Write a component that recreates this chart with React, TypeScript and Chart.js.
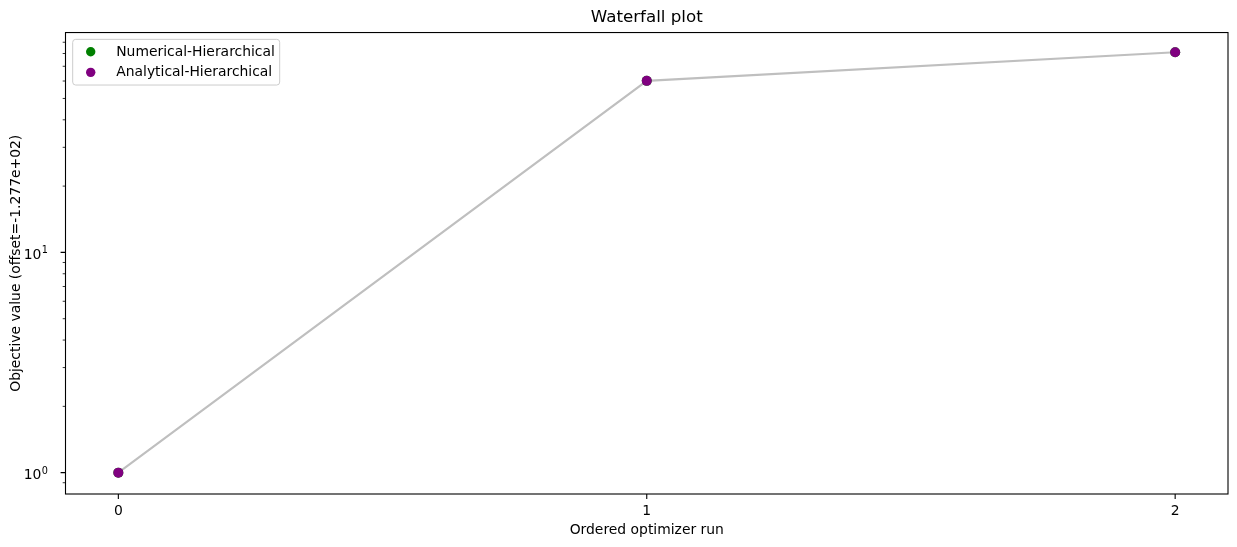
import { useEffect, useRef } from 'react';
import { Chart, registerables, Plugin } from 'chart.js';

Chart.register(...registerables);

const runs = [0, 1, 2];
const numericalValues = [1, 60.1, 81.1];
const analyticalValues = [1, 60.1, 81.1];
const seriesLabels = ['Numerical-Hierarchical', 'Analytical-Hierarchical'];
const seriesColors = ['#008000', '#800080'];
const xTicks = [0, 1, 2];
const yMajorTicks = [1, 10];
const yMinorTicks = [0.9, 2, 3, 4, 5, 6, 7, 8, 9, 20, 30, 40, 50, 60, 70, 80, 90];

const FONT = 'DejaVu Sans';

// matplotlib-like spines, tick marks, 10^n labels and an in-axes legend
const axesDecor: Plugin<'scatter'> = {
  id: 'axesDecor',
  afterDraw(chart) {
    const { ctx, chartArea: area, scales } = chart;
    const x = scales.x;
    const y = scales.y;
    ctx.save();
    ctx.strokeStyle = '#000';
    ctx.lineWidth = 1.1;

    ctx.beginPath();
    xTicks.forEach(v => {
      const px = x.getPixelForValue(v);
      ctx.moveTo(px, area.bottom);
      ctx.lineTo(px, area.bottom + 4.9);
    });
    yMajorTicks.forEach(v => {
      const py = y.getPixelForValue(v);
      ctx.moveTo(area.left, py);
      ctx.lineTo(area.left - 4.9, py);
    });
    ctx.stroke();

    ctx.lineWidth = 0.8;
    ctx.beginPath();
    yMinorTicks.forEach(v => {
      const py = y.getPixelForValue(v);
      ctx.moveTo(area.left, py);
      ctx.lineTo(area.left - 2.8, py);
    });
    ctx.stroke();

    ctx.lineWidth = 1.1;
    ctx.strokeRect(area.left, area.top, area.right - area.left, area.bottom - area.top);

    // y labels as 10 with a raised exponent
    ctx.fillStyle = '#000';
    ctx.textBaseline = 'alphabetic';
    yMajorTicks.forEach(v => {
      const py = y.getPixelForValue(v);
      const exp = String(Math.round(Math.log10(v)));
      ctx.font = `9.7px "${FONT}"`;
      ctx.textAlign = 'right';
      const expRight = area.left - 17.5;
      ctx.fillText(exp, expRight, py + 1);
      const expW = ctx.measureText(exp).width;
      ctx.font = `13.9px "${FONT}"`;
      ctx.fillText('10', expRight - expW - 0.5, py + 6.7);
    });

    // legend
    const lx = area.left + 7.2;
    const ly = area.top + 6.8;
    ctx.beginPath();
    ctx.roundRect(lx, ly, 207, 45.7, 3);
    ctx.fillStyle = 'rgba(255,255,255,0.8)';
    ctx.fill();
    ctx.strokeStyle = '#cccccc';
    ctx.lineWidth = 1;
    ctx.stroke();

    ctx.font = `13.9px "${FONT}"`;
    ctx.textBaseline = 'middle';
    ctx.textAlign = 'left';
    seriesLabels.forEach((label, i) => {
      const rowY = ly + 12.4 + i * 20.6;
      ctx.beginPath();
      ctx.arc(lx + 18, rowY, 4.7, 0, Math.PI * 2);
      ctx.fillStyle = seriesColors[i];
      ctx.fill();
      ctx.fillStyle = '#000';
      ctx.fillText(label, lx + 43.5, rowY + 0.5);
    });
    ctx.restore();
  },
};

export default function App() {
  const canvasRef = useRef<HTMLCanvasElement>(null);
  const chartRef = useRef<Chart | null>(null);

  useEffect(() => {
    if (!canvasRef.current) return;
    if (chartRef.current) chartRef.current.destroy();

    Chart.defaults.font.family = FONT;
    Chart.defaults.color = '#000';

    const toPoints = (vals: number[]) => runs.map((r, i) => ({ x: r, y: vals[i] }));

    chartRef.current = new Chart(canvasRef.current, {
      type: 'scatter',
      data: {
        datasets: [
          {
            label: 'line',
            data: toPoints(analyticalValues),
            showLine: true,
            borderColor: 'rgb(191,191,191)',
            borderWidth: 2.1,
            pointRadius: 0,
            order: 3,
          },
          {
            label: seriesLabels[0],
            data: toPoints(numericalValues),
            backgroundColor: seriesColors[0],
            borderWidth: 0,
            pointRadius: 5,
            order: 2,
          },
          {
            label: seriesLabels[1],
            data: toPoints(analyticalValues),
            backgroundColor: seriesColors[1],
            borderWidth: 0,
            pointRadius: 5,
            order: 1,
          },
        ],
      },
      options: {
        responsive: true,
        maintainAspectRatio: false,
        animation: false,
        layout: { padding: { left: 0, right: 9, top: 0, bottom: 0 } },
        plugins: {
          legend: { display: false },
          tooltip: { enabled: false },
          title: {
            display: true,
            text: 'Waterfall plot',
            fullSize: false,
            font: { size: 16.7, weight: 'normal' },
            color: '#000',
            padding: { top: 8, bottom: 4.5 },
          },
        },
        scales: {
          x: {
            type: 'linear',
            min: -0.1,
            max: 2.1,
            bounds: 'data',
            grid: { display: false, drawTicks: false },
            border: { display: false },
            afterBuildTicks: axis => {
              axis.ticks = xTicks.map(v => ({ value: v }));
            },
            afterFit: axis => {
              axis.height = 53;
            },
            ticks: {
              autoSkip: false,
              maxRotation: 0,
              padding: 9,
              font: { size: 13.9 },
              callback: v => String(v),
            },
            title: {
              display: true,
              text: 'Ordered optimizer run',
              font: { size: 13.9 },
              padding: { top: 0, bottom: 8.7 },
            },
          },
          y: {
            type: 'logarithmic',
            min: 0.8,
            max: 99.6,
            bounds: 'data',
            grid: { display: false, drawTicks: false },
            border: { display: false },
            afterBuildTicks: axis => {
              axis.ticks = [...yMajorTicks, ...yMinorTicks]
                .sort((a, b) => a - b)
                .map(v => ({ value: v, major: yMajorTicks.includes(v) }));
            },
            afterFit: axis => {
              axis.width = 65.5;
            },
            ticks: {
              autoSkip: false,
              padding: 17.5,
              font: { size: 13.9 },
              // labels are drawn by axesDecor with a raised exponent
              callback: () => '',
            },
            title: {
              display: true,
              text: 'Objective value (offset=-1.277e+02)',
              font: { size: 13.9 },
              padding: { top: 7.7, bottom: 0 },
            },
          },
        },
      },
      plugins: [axesDecor],
    });

    return () => {
      if (chartRef.current) {
        chartRef.current.destroy();
        chartRef.current = null;
      }
    };
  }, []);

  return (
    <div style={{ position: 'fixed', left: 0, top: 0, width: 1237, height: 547, background: '#fff' }}>
      <canvas ref={canvasRef}></canvas>
    </div>
  );
}
